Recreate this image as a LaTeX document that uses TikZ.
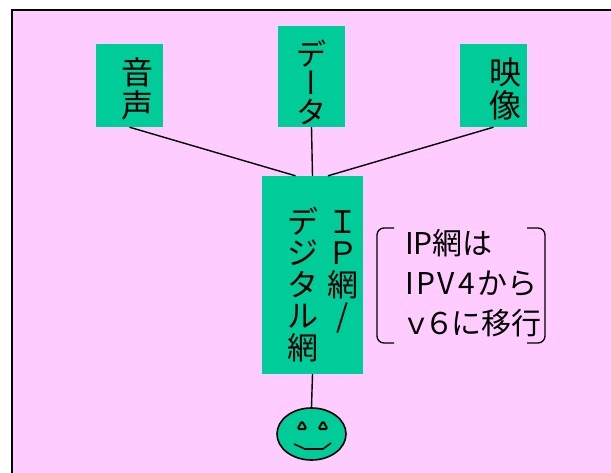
\documentclass[tikz,border=0pt]{standalone}
\usepackage{fontspec}
\usepackage{graphicx}
\usetikzlibrary{shapes.geometric,calc}
\newfontfamily\jp{Noto Sans CJK JP}
\newfontfamily\jpv[RawFeature=+vert]{Noto Sans CJK JP}
\definecolor{bgpink}{HTML}{FFCCFF}
\definecolor{boxgreen}{HTML}{00CC99}
\tikzset{
  greenbox/.style={fill=boxgreen, inner sep=0pt, font=\jp},
  wire/.style={draw=black, line width=1.4pt},
  notetext/.style={inner sep=0pt, align=left, font=\jp\fontsize{30}{40}\selectfont},
  bracketline/.style={draw=black, line width=1.3pt, rounded corners=7pt},
}
\begin{document}
\begin{tikzpicture}[x=1pt,y=-1pt]
\useasboundingbox (0,0) rectangle (611,473);
\fill[white] (0,0) rectangle (611,473);
\begin{scope}
\clip (0,0) rectangle (611,473);
\filldraw[fill=bgpink, draw=black, line width=1.6pt] (12,10) rectangle (640,500);
\end{scope}
% top boxes
\node[greenbox] (a) at (129.5,85.5)
  {\parbox[c][83pt][t]{67pt}{\fontsize{32}{33}\selectfont\vspace*{14pt}\raggedleft\rightskip=10pt 音\\声}};
\node[greenbox] (d) at (311.5,76.5)
  {\parbox[c][101pt][t]{67pt}{\fontsize{30}{29}\selectfont\vspace*{14pt}\centering デ\\{\jpv ー}\\タ}};
\node[greenbox] (v) at (493.5,85.5)
  {\parbox[c][83pt][t]{67pt}{\fontsize{32}{33}\selectfont\vspace*{14pt}\raggedleft\rightskip=6pt 映\\像}};
% center box
\node[greenbox] (ip) at (312.5,275)
  {\parbox[c][198pt][t]{101pt}{\fontsize{31}{31.5}\selectfont\vspace*{31pt}\noindent\hspace*{24.5pt}%
   \parbox[t]{32pt}{\centering デ\\ジ\\タ\\ル\\網}\hspace{8pt}%
   \parbox[t]{32pt}{\centering Ｉ\\Ｐ\\網\\/}}};
% note
\node[notetext, anchor=north west] (note) at (405,229)
  {IP網は\\I\kern3ptP\kern2ptV\kern3pt4\kern3ptから\\\makebox[23pt][c]{ｖ}\makebox[23pt][c]{６}に移行};
\draw[bracketline] ($(note.north west)+(-11,-1)$) -- ($(note.north west)+(-28,-1)$) -- ($(note.north west)+(-28,114)$) -- ($(note.north west)+(-11,114)$);
\draw[bracketline] ($(note.north west)+(122,-1)$) -- ($(note.north west)+(140,-1)$) -- ($(note.north west)+(140,114)$) -- ($(note.north west)+(122,114)$);
% smiley
\node[ellipse, fill=boxgreen, draw=black, line width=1.6pt, minimum width=69pt, minimum height=52pt, inner sep=0pt] (smile) at (311.5,434) {};
\begin{scope}[shift={(smile.center)}, line width=2pt, line join=round, rounded corners=1.5pt]
\filldraw[fill=boxgreen] (-9.5,-13) -- (-14,-5) -- (-5,-5) -- cycle;
\filldraw[fill=boxgreen] (11.5,-13) -- (7,-5) -- (16,-5) -- cycle;
\end{scope}
\begin{scope}[shift={(smile.center)}, line width=1.6pt, line join=round]
\draw (-17.5,10) -- (-6.5,15) -- (11.5,15) -- (19.5,9);
\end{scope}
% connectors
\draw[wire] (a.south) -- ([xshift=-17pt]ip.north);
\draw[wire] (d.south) -- (ip.north);
\draw[wire] (v.south) -- ([xshift=15.5pt]ip.north);
\draw[wire] (ip.south) -- (smile.north);
\end{tikzpicture}
\end{document}
